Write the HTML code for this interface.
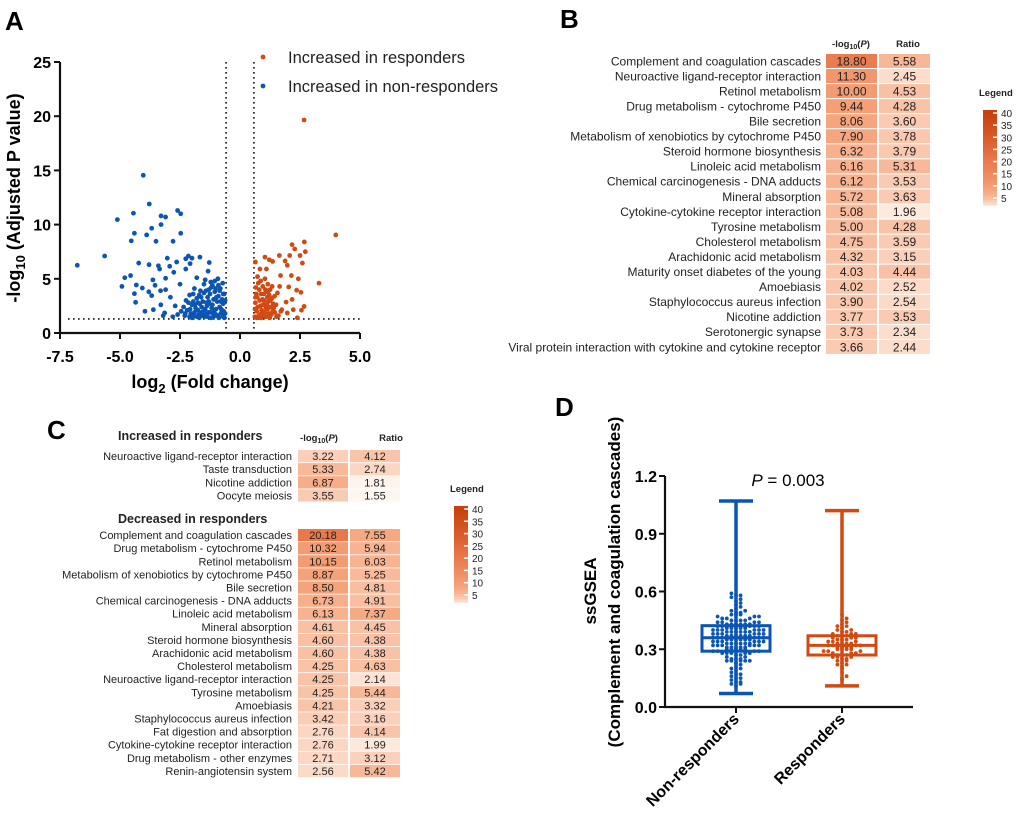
<!DOCTYPE html>
<html><head><meta charset="utf-8"><style>
body{margin:0;background:#fff}
svg{display:block;font-family:"Liberation Sans",Arial,sans-serif}
</style></head><body>
<svg id="fig" width="1020" height="831" viewBox="0 0 1020 831" xmlns="http://www.w3.org/2000/svg">
<g id="A"></g>
<g id="B"></g>
<g id="C"></g>
<g id="D"></g>
</svg>
<script>
// ---------- Panel A data ----------
const volcBlueX=[-6.78,-5.64,-5.11,-4.44,-4.03,-3.78,-3.29,-3.1,-3.29,-2.6,-2.47,-2.47,-4.4,-3.89,-3.68,-3.5,-4.53,-2.79,-4.92,-4.8,-4.56,-4.22,-4.32,-4.4,-4.35,-4.07,-3.8,-3.68,-3.79,-3.4,-3.35,-3.63,-3.54,-3.31,-3.3,-3.96,-3.61,-3.03,-2.93,-2.76,-2.64,-3.1,-3.1,-2.9,-3.14,-3.2,-2.26,-2.15,-2.0,-1.67,-1.28,-2.08,-2.26,-1.8,-1.33,-2.5,
-2.3,-2.2,-2.1,-2.0,-1.9,-1.8,-1.7,-1.6,-1.5,-1.4,-1.3,-1.2,-1.1,-1.0,-0.9,-0.8,-0.7,-0.65,-2.35,-2.25,-2.15,-2.05,-1.95,-1.85,-1.75,-1.65,-1.55,-1.45,-1.35,-1.25,-1.15,-1.05,-0.95,-0.85,-0.75,-0.68,-2.1,-1.9,-1.7,-1.5,-1.3,-1.1,-0.9,-0.7,-1.6,-1.4,-1.2,-1.0,-0.8,-1.8,-2.0,-1.25,-1.05,-0.85,-0.72,-1.45,-1.15,-0.95,-1.55,-1.75,-1.95,-2.45,-2.6,-2.7,-2.8,-1.35,-1.08,-0.88,-0.78,-0.62,-0.66,-1.62,-1.38,-1.18,-1.28,-0.98,-1.48,-1.68,-1.88,-2.08,-2.28,-0.92,-1.22,-1.42,-0.82,-1.02,-0.62,-0.7,-0.76,-1.12,-1.32,-1.52,-1.72,-1.92];
const volcBlueY=[6.25,7.1,10.46,11.05,14.55,11.9,10.8,10.7,10.0,11.3,11.0,9.2,9.2,9.05,9.66,8.46,8.5,8.46,4.3,5.1,5.3,6.45,4.43,3.63,2.83,4.15,3.8,3.45,6.3,6.2,5.9,4.9,4.4,3.9,2.6,2.0,2.15,6.9,6.15,5.6,6.55,5.05,4.0,3.3,1.85,1.6,6.85,7.1,6.9,7.0,6.5,6.4,5.9,5.1,5.7,4.5,
1.6,2.1,1.5,2.6,1.9,3.2,1.4,2.4,3.7,1.7,2.9,4.2,1.5,2.2,3.4,1.8,2.7,1.4,2.4,3.0,2.8,1.8,3.6,2.3,2.8,3.9,1.6,2.2,3.3,1.9,2.6,3.8,1.6,2.4,3.1,2.0,3.5,4.1,3.5,4.5,4.0,3.1,4.4,3.6,1.9,2.8,1.4,1.7,2.9,1.5,1.4,3.6,4.8,3.9,4.6,4.9,4.4,2.9,2.9,2.1,2.9,2.0,1.7,2.5,1.5,1.5,2.0,1.4,2.2,3.0,3.6,3.3,2.5,2.3,2.7,3.3,1.5,2.7,2.6,2.2,1.8,5.0,4.7,3.9,4.1,4.1,1.8,1.5,1.9,1.8,1.9,2.0,1.7,1.6];
const volcRedX=[2.67,3.99,2.68,2.17,2.28,2.72,2.5,1.64,2.07,1.88,2.6,1.97,1.04,1.36,1.22,0.64,3.29,2.43,2.14,1.69,2.03,2.36,2.54,2.17,1.92,2.67,2.56,2.39,2.22,1.97,1.74,0.83,1.1,1.65,
0.62,0.7,0.78,0.85,0.92,1.0,1.08,1.15,1.22,1.3,1.38,1.45,1.52,0.64,0.72,0.8,0.88,0.95,1.03,1.1,1.18,1.25,1.33,1.4,0.66,0.74,0.82,0.9,0.98,1.06,1.14,1.2,1.28,1.36,0.68,0.76,0.84,0.94,1.02,1.12,1.26,1.44,1.5,1.6,1.7,0.63,0.7,0.86,1.04,1.16,1.34,1.56,0.96,0.88,1.24,0.73,0.65,0.99,1.19,1.08];
const volcRedY=[19.65,9.05,8.4,8.15,7.75,7.5,7.15,7.15,7.15,6.65,6.45,6.25,7.0,6.6,6.75,6.55,4.6,5.0,5.3,5.3,4.25,3.95,3.75,3.1,2.85,2.45,2.1,1.4,2.15,1.85,2.15,5.9,5.9,4.3,
1.5,2.0,1.6,2.5,1.8,3.0,1.5,2.2,3.5,1.7,2.7,1.9,1.5,2.8,3.3,4.0,3.6,4.3,2.6,3.8,2.9,4.0,3.2,2.3,4.2,2.4,3.0,2.1,1.6,4.0,3.3,1.8,2.4,2.0,3.6,4.6,1.7,3.1,1.9,2.6,3.0,3.4,2.6,1.6,2.0,2.2,1.4,4.8,5.0,4.5,4.3,3.7,2.6,1.4,1.4,5.2,3.3,3.6,3.9,2.3];
const volcXTicks=[-7.5,-5.0,-2.5,0.0,2.5,5.0];
const volcYTicks=[0,5,10,15,20,25];

// ---------- Panel B data ----------
const bLabels=["Complement and coagulation cascades","Neuroactive ligand-receptor interaction","Retinol metabolism","Drug metabolism - cytochrome P450","Bile secretion","Metabolism of xenobiotics by cytochrome P450","Steroid hormone biosynthesis","Linoleic acid metabolism","Chemical carcinogenesis - DNA adducts","Mineral absorption","Cytokine-cytokine receptor interaction","Tyrosine metabolism","Cholesterol metabolism","Arachidonic acid metabolism","Maturity onset diabetes of the young","Amoebiasis","Staphylococcus aureus infection","Nicotine addiction","Serotonergic synapse","Viral protein interaction with cytokine and cytokine receptor"];
const bLogP=[18.80,11.30,10.00,9.44,8.06,7.90,6.32,6.16,6.12,5.72,5.08,5.00,4.75,4.32,4.03,4.02,3.90,3.77,3.73,3.66];
const bRatio=[5.58,2.45,4.53,4.28,3.60,3.78,3.79,5.31,3.53,3.63,1.96,4.28,3.59,3.15,4.44,2.52,2.54,3.53,2.34,2.44];

// ---------- Panel C data ----------
const cUpLabels=["Neuroactive ligand-receptor interaction","Taste transduction","Nicotine addiction","Oocyte meiosis"];
const cUpLogP=[3.22,5.33,6.87,3.55];
const cUpRatio=[4.12,2.74,1.81,1.55];
const cDownLabels=["Complement and coagulation cascades","Drug metabolism - cytochrome P450","Retinol metabolism","Metabolism of xenobiotics by cytochrome P450","Bile secretion","Chemical carcinogenesis - DNA adducts","Linoleic acid metabolism","Mineral absorption","Steroid hormone biosynthesis","Arachidonic acid metabolism","Cholesterol metabolism","Neuroactive ligand-receptor interaction","Tyrosine metabolism","Amoebiasis","Staphylococcus aureus infection","Fat digestion and absorption","Cytokine-cytokine receptor interaction","Drug metabolism - other enzymes","Renin-angiotensin system"];
const cDownLogP=[20.18,10.32,10.15,8.87,8.50,6.73,6.13,4.61,4.60,4.60,4.25,4.25,4.25,4.21,3.42,2.76,2.76,2.71,2.56];
const cDownRatio=[7.55,5.94,6.03,5.25,4.81,4.91,7.37,4.45,4.38,4.38,4.63,2.14,5.44,3.32,3.16,4.14,1.99,3.12,5.42];
const legendTicks=[40,35,30,25,20,15,10,5];

// ---------- Panel D data ----------
const dCategories=["Non-responders","Responders"];
const dNonResp=[0.07,0.11,0.12,0.12,0.13,0.13,0.14,0.15,0.15,0.16,0.17,0.17,0.18,0.19,0.2,0.2,0.21,0.22,0.23,0.24,0.24,0.24,0.24,0.24,0.25,0.25,0.25,0.26,0.26,0.27,0.27,0.28,0.28,0.28,0.28,0.28,0.29,0.29,0.29,0.29,
0.3,0.3,0.3,0.3,0.3,0.31,0.31,0.31,0.31,0.31,0.32,0.32,0.32,0.32,0.32,0.32,0.33,0.33,0.33,0.33,0.33,0.33,0.34,0.34,0.34,0.34,0.34,0.34,0.35,0.35,0.35,0.35,0.35,0.35,0.36,0.36,0.36,0.36,0.36,0.36,0.37,0.37,0.37,0.37,0.37,0.37,0.38,0.38,0.38,0.38,0.38,0.38,0.39,0.39,0.39,0.39,0.39,0.39,0.4,0.4,0.4,0.4,0.4,0.4,0.41,0.41,0.41,0.41,0.41,0.42,0.42,0.42,0.42,0.42,0.43,0.43,0.43,0.43,0.43,0.43,
0.44,0.44,0.44,0.44,0.45,0.45,0.45,0.45,0.46,0.46,0.46,0.47,0.47,0.47,0.48,0.48,0.48,0.49,0.49,0.5,0.5,0.51,0.52,0.53,0.54,0.55,0.56,0.57,0.58,0.58,0.59,1.07];
const dResp=[0.11,0.14,0.15,0.16,0.18,0.2,0.21,0.22,0.22,0.23,0.24,0.24,0.25,0.25,0.26,0.26,0.26,0.27,0.27,0.27,0.28,0.28,0.28,0.29,0.29,0.29,0.3,0.3,0.3,0.3,0.31,0.31,0.31,0.31,0.32,0.32,0.32,0.32,0.33,0.33,0.33,0.33,0.34,0.34,0.34,0.35,0.35,0.35,0.36,0.36,0.36,0.37,0.37,0.37,0.38,0.38,0.38,0.39,0.39,0.4,0.4,0.41,0.42,0.42,0.43,0.44,0.45,0.46,0.48,1.02];
const dYTicks=[0.0,0.3,0.6,0.9,1.2];

const NS="http://www.w3.org/2000/svg";
const BLUE="#0b55b3", RED="#d14a12";
function mk(parent,tag,attrs,text){const e=document.createElementNS(NS,tag);for(const k in attrs)e.setAttribute(k,attrs[k]);if(text!==undefined)e.textContent=text;parent.appendChild(e);return e;}

// ===== Panel A =====
const A=document.getElementById('A');
const xA=v=>60+(v+7.5)*24, yA=v=>333-v*10.84;
let t=mk(A,'text',{x:5,y:30,'font-size':26,'font-weight':'bold'},'A');


[-0.58,0.58].forEach(v=>{let l=mk(A,'line',{x1:xA(v),x2:xA(v),y1:62,y2:333,stroke:'#111','stroke-width':1.6,'stroke-dasharray':'1.6 3.4'});

});
let hl=mk(A,'line',{x1:68,x2:362,y1:yA(1.3),y2:yA(1.3),stroke:'#111','stroke-width':1.6,'stroke-dasharray':'1.6 3.4'});


volcBlueX.forEach((v,i)=>{let c=mk(A,'circle',{cx:xA(v),cy:yA(volcBlueY[i]),r:2.4,fill:BLUE});

});
volcRedX.forEach((v,i)=>{let c=mk(A,'circle',{cx:xA(v),cy:yA(volcRedY[i]),r:2.4,fill:RED});

});
let ax=mk(A,'path',{d:`M60,62V333H360`,fill:'none',stroke:'#111','stroke-width':2.2});


volcYTicks.forEach(v=>{mk(A,'line',{x1:54,x2:60,y1:yA(v),y2:yA(v),stroke:'#111','stroke-width':2});
let tl=mk(A,'text',{x:51,y:yA(v)+6,'text-anchor':'end','font-size':16,'font-weight':'bold'},v);

});
volcXTicks.forEach(v=>{mk(A,'line',{x1:xA(v),x2:xA(v),y1:333,y2:339,stroke:'#111','stroke-width':2});
let tl=mk(A,'text',{x:xA(v),y:362,'text-anchor':'middle','font-size':16,'font-weight':'bold'},v.toFixed(1));

});
let xt=mk(A,'text',{x:210,y:388,'text-anchor':'middle','font-size':18,'font-weight':'bold'});
xt.innerHTML='log<tspan font-size="13" dy="5">2</tspan><tspan dy="-5"> (Fold change)</tspan>';


let yt=mk(A,'text',{transform:'translate(20,198) rotate(-90)','text-anchor':'middle','font-size':18,'font-weight':'bold'});
yt.innerHTML='-log<tspan font-size="13" dy="5">10</tspan><tspan dy="-5"> (Adjusted P value)</tspan>';


[["Increased in responders",RED,57],["Increased in non-responders",BLUE,86]].forEach(d=>{
let g=mk(A,'g',{});


mk(g,'circle',{cx:263,cy:d[2],r:2.4,fill:d[1]});
mk(g,'text',{x:288,y:d[2]+6,'font-size':16.5,fill:'#222'},d[0]);});

// ===== heatmap helpers =====
const stops=[[0,[255,246,240]],[0.4,[246,166,126]],[0.7,[233,120,74]],[1,[200,64,10]]];
function hcol(v){let t=Math.min(1,Math.sqrt(Math.max(0,v-1.8)/38.2));
for(let i=1;i<stops.length;i++){if(t<=stops[i][0]){const a=stops[i-1],b=stops[i];const f=(t-a[0])/(b[0]-a[0]);
return `rgb(${a[1].map((x,j)=>Math.round(x+(b[1][j]-x)*f)).join(',')})`;}}
return 'rgb(200,64,10)';}
function heat(G,labels,logp,ratio,y0,pitch,h,c1,c2,w,labelX,fs,nm){
labels.forEach((lab,i)=>{const y=y0+i*pitch;
let tl=mk(G,'text',{x:labelX,y:y+h/2+fs*0.36,'text-anchor':'end','font-size':fs,fill:'#222'},lab);


[[c1,logp[i]],[c2,ratio[i]]].forEach((c,j)=>{
let r=mk(G,'rect',{x:c[0],y:y,width:w,height:h,fill:hcol(c[1])});


mk(G,'text',{x:c[0]+w/2,y:y+h/2+fs*0.36,'text-anchor':'middle','font-size':fs,fill:'#222'},c[1].toFixed(2));});});}
function legendBar(G,x,y0,h,lx,ly){
let lt=mk(G,'text',{x:lx,y:ly,'font-size':9.5,'font-weight':'bold',fill:'#222'},'Legend');


const steps=36;for(let i=0;i<steps;i++){const v=40-i*(38.5/steps);
mk(G,'rect',{x:x,y:y0+i*h/steps,width:14,height:h/steps+0.5,fill:hcol(v)});}
legendTicks.forEach((v,i)=>{const y=y0+3+i*(h-10)/7;
mk(G,'line',{x1:x+10,x2:x+14,y1:y,y2:y,stroke:'#fff','stroke-width':1.5});
let tl=mk(G,'text',{x:x+18,y:y+4,'font-size':10,fill:'#222'},v);

});}

// ===== Panel B =====
const B=document.getElementById('B');
t=mk(B,'text',{x:560,y:28,'font-size':26,'font-weight':'bold'},'B');


let bh=mk(B,'text',{x:851,y:47,'text-anchor':'middle','font-size':9.5,'font-weight':'bold',fill:'#222'});
bh.innerHTML='-log<tspan font-size="7" dy="2">10</tspan><tspan dy="-2">(<tspan font-style="italic">P</tspan>)</tspan>';


let br=mk(B,'text',{x:908,y:47,'text-anchor':'middle','font-size':9.5,'font-weight':'bold',fill:'#222'},'Ratio');


heat(B,bLabels,bLogP,bRatio,54,15.05,14,826,879,51,821,12,'b');
legendBar(B,983,110,95,979,96);

// ===== Panel C =====
const C=document.getElementById('C');
t=mk(C,'text',{x:47,y:439,'font-size':26,'font-weight':'bold'},'C');


let cu=mk(C,'text',{x:118,y:440,'font-size':12.5,'font-weight':'bold',fill:'#222'},'Increased in responders');


let cd=mk(C,'text',{x:118,y:523,'font-size':12.5,'font-weight':'bold',fill:'#222'},'Decreased in responders');


let ch=mk(C,'text',{x:319,y:441,'text-anchor':'middle','font-size':9.5,'font-weight':'bold',fill:'#222'});
ch.innerHTML='-log<tspan font-size="7" dy="2">10</tspan><tspan dy="-2">(<tspan font-style="italic">P</tspan>)</tspan>';


let cr=mk(C,'text',{x:391,y:441,'text-anchor':'middle','font-size':9.5,'font-weight':'bold',fill:'#222'},'Ratio');


heat(C,cUpLabels,cUpLogP,cUpRatio,450,13.1,12.3,298,350,50,292,11,'c-up');
heat(C,cDownLabels,cDownLogP,cDownRatio,529,13.1,12.3,298,350,50,292,11,'c-down');
legendBar(C,454,506,96,450,492);

// ===== Panel D =====
const D=document.getElementById('D');
const yD=v=>707-v*192.5/1.0;
t=mk(D,'text',{x:555,y:416,'font-size':26,'font-weight':'bold'},'D');


let da=mk(D,'path',{d:'M665,476V707H913',fill:'none',stroke:'#111','stroke-width':2.2});


dYTicks.forEach(v=>{mk(D,'line',{x1:659,x2:665,y1:yD(v),y2:yD(v),stroke:'#111','stroke-width':2});
let tl=mk(D,'text',{x:657,y:yD(v)+6,'text-anchor':'end','font-size':16,'font-weight':'bold'},v.toFixed(1));

});
function q(a,p){const s=[...a].sort((x,y)=>x-y);const i=(s.length-1)*p,l=Math.floor(i);return s[l]+(s[Math.min(l+1,s.length-1)]-s[l])*(i-l);}
[[dNonResp,736,BLUE,34],[dResp,842,RED,34]].forEach((d,k)=>{
const [vals,cx,col,hw]=d;
const g=mk(D,'g',{});


const mn=Math.min(...vals),mx=Math.max(...vals),q1=q(vals,0.25),q3=q(vals,0.75),md=q(vals,0.5);
mk(g,'line',{x1:cx,x2:cx,y1:yD(mx),y2:yD(mn),stroke:col,'stroke-width':3.5});
mk(g,'line',{x1:cx-17,x2:cx+17,y1:yD(mx),y2:yD(mx),stroke:col,'stroke-width':3.5});
mk(g,'line',{x1:cx-17,x2:cx+17,y1:yD(mn),y2:yD(mn),stroke:col,'stroke-width':3.5});
const bins={};
vals.forEach(v=>{if(v===mn||v===mx)return;const b=Math.round(v/0.02);bins[b]=(bins[b]||0)+1;const n=bins[b]-1;
const off=(n%2?1:-1)*Math.ceil(n/2)*4.6;
let c=mk(g,'circle',{cx:cx+off,cy:yD(v),r:1.9,fill:col});

});
mk(g,'rect',{x:cx-hw,y:yD(q3),width:hw*2,height:yD(q1)-yD(q3),fill:'none',stroke:col,'stroke-width':3});
mk(g,'line',{x1:cx-hw,x2:cx+hw,y1:yD(md),y2:yD(md),stroke:col,'stroke-width':3});
mk(D,'line',{x1:cx,x2:cx,y1:707,y2:713,stroke:'#111','stroke-width':2});
let xl=mk(D,'text',{transform:`translate(${cx+4},${720}) rotate(-45)`,'text-anchor':'end','font-size':16,'font-weight':'bold'},dCategories[k]);


});
let pt=mk(D,'text',{x:788,y:486,'text-anchor':'middle','font-size':17});
pt.innerHTML='<tspan font-style="italic">P</tspan> = 0.003';


let y1=mk(D,'text',{transform:'translate(596,591) rotate(-90)','text-anchor':'middle','font-size':17,'font-weight':'bold'},'ssGSEA');


let y2=mk(D,'text',{transform:'translate(620,582) rotate(-90)','text-anchor':'middle','font-size':17,'font-weight':'bold'},'(Complement and coagulation cascades)');


</script>
</body></html>
